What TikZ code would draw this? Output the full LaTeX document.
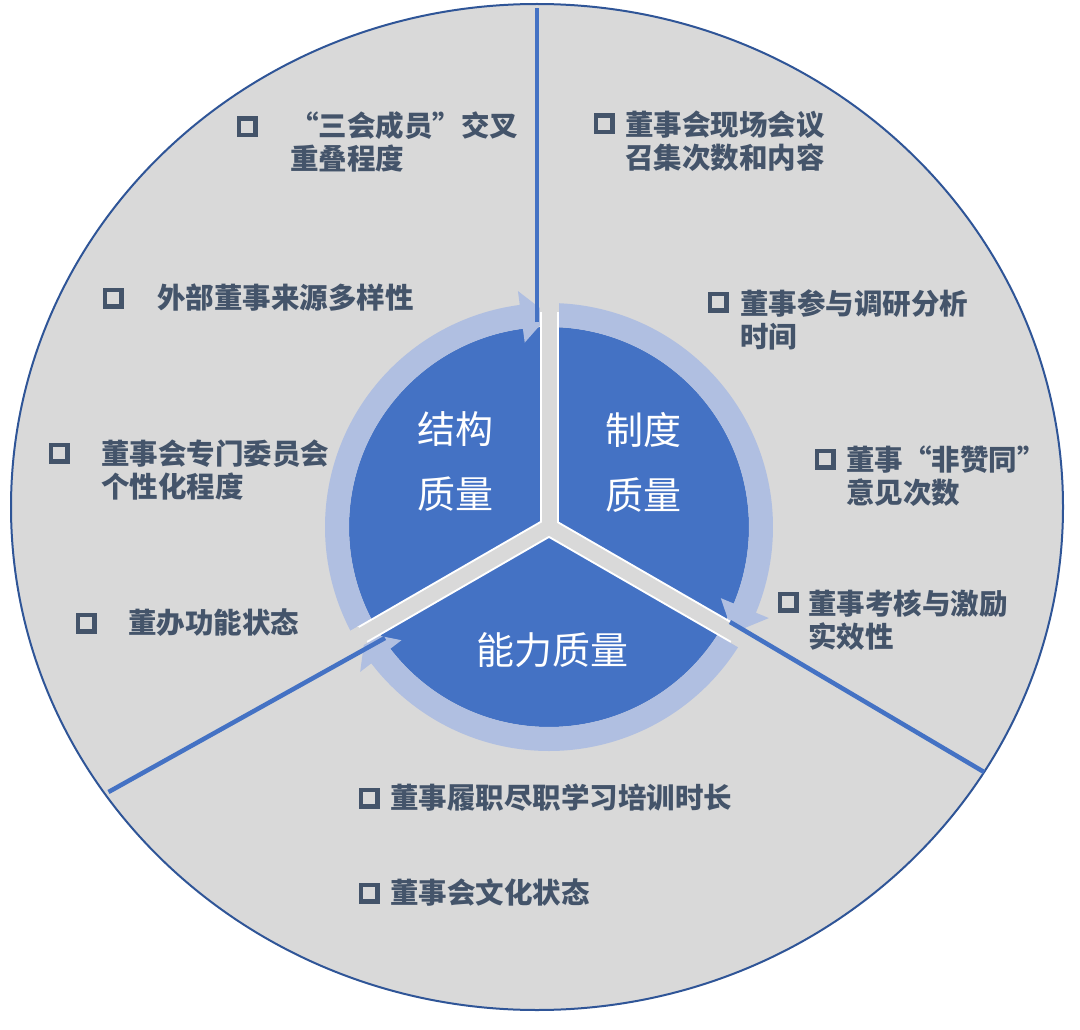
\documentclass[tikz,border=0pt]{standalone}
\usepackage{fontspec}
\setmainfont{Noto Sans CJK SC}
\definecolor{bgray}{HTML}{D9D9D9}
\definecolor{edgeblue}{HTML}{2F5597}
\definecolor{diskblue}{HTML}{4472C4}
\definecolor{ringblue}{HTML}{B0BFE1}
\definecolor{txtgray}{HTML}{44546A}
\newcommand\cyclearrow[3]{%
  \fill[ringblue] (#1:224) arc[start angle=#1,end angle=#2,radius=224]
    -- (#2:238) -- (#3:212) -- (#2:186) -- (#2:200)
    arc[start angle=#2,end angle=#1,radius=200] -- cycle;}
\tikzset{
  bullet/.style={draw=txtgray,line width=4.5,minimum size=16.5,inner sep=0,shape=rectangle},
  item/.style={anchor=west,inner sep=0,align=left,text=txtgray,font=\fontsize{28.5}{33}\selectfont\bfseries},
  core/.style={inner sep=0,align=center,text=white,font=\fontsize{38}{65}\selectfont},
  divider/.style={draw=diskblue,line width=4.5},
}
\begin{document}
\begin{tikzpicture}[x=1pt,y=-1pt]
\useasboundingbox (0,0) rectangle (1080,1030);
% outer disc
\fill[bgray] (537,507) ellipse[x radius=526,y radius=503];
\draw[edgeblue,line width=2] (537,507) ellipse[x radius=526,y radius=503];
% inner disc and cycle arrows
\begin{scope}[shift={(549,527)}]
  \fill[diskblue] (0,0) circle[radius=200];
  \cyclearrow{150}{262.5}{270}
  \cyclearrow{270}{382.5}{390}
  \cyclearrow{30}{142.5}{150}
  \foreach \a in {270,150,30} \draw[white,line width=19] (0,0) -- (\a:216);
  \foreach \a in {270,150,30} \draw[bgray,line width=15] (0,0) -- (\a:217);
  \foreach \a in {270,150,30} \draw[bgray,line width=19] (\a:215) -- (\a:246);
\end{scope}
% dividers
\coordinate (tA) at (537,322); \coordinate (tB) at (537,8);
\coordinate (lA) at (385,638); \coordinate (lB) at (108.5,792);
\coordinate (rA) at (730,622); \coordinate (rB) at (984,772);
\draw[divider] (tA) -- (tB);
\draw[divider] (lA) -- (lB);
\draw[divider] (rA) -- (rB);
% core labels
\node[core] (c1) at (455,462) {结构\\质量};
\node[core] (c2) at (643,462) {制度\\质量};
\node[core] (c3) at (552,650) {能力质量};
% left items
\node[bullet] (s1) at (247,127) {};
\node[item] (t1) at (290,142) {“三会成员”交叉\\重叠程度};
\node[bullet] (s2) at (113,298) {};
\node[item] (t2) at (157,298) {外部董事来源多样性};
\node[bullet] (s3) at (59,453) {};
\node[item] (t3) at (101,470) {董事会专门委员会\\个性化程度};
\node[bullet] (s4) at (86,623) {};
\node[item] (t4) at (128,623) {董办功能状态};
% right items
\node[bullet] (s5) at (604,124) {};
\node[item] (t5) at (625,141) {董事会现场会议\\召集次数和内容};
\node[bullet] (s6) at (718,302) {};
\node[item] (t6) at (740,320) {董事参与调研分析\\时间};
\node[bullet] (s7) at (825,459) {};
\node[item] (t7) at (846,476) {董事“非赞同”\\意见次数};
\node[bullet] (s8) at (788,602) {};
\node[item] (t8) at (808,620) {董事考核与激励\\实效性};
% bottom items
\node[bullet] (s9) at (369,798) {};
\node[item] (t9) at (390,798) {董事履职尽职学习培训时长};
\node[bullet] (s10) at (369,893) {};
\node[item] (t10) at (390,893) {董事会文化状态};
\end{tikzpicture}
\end{document}
